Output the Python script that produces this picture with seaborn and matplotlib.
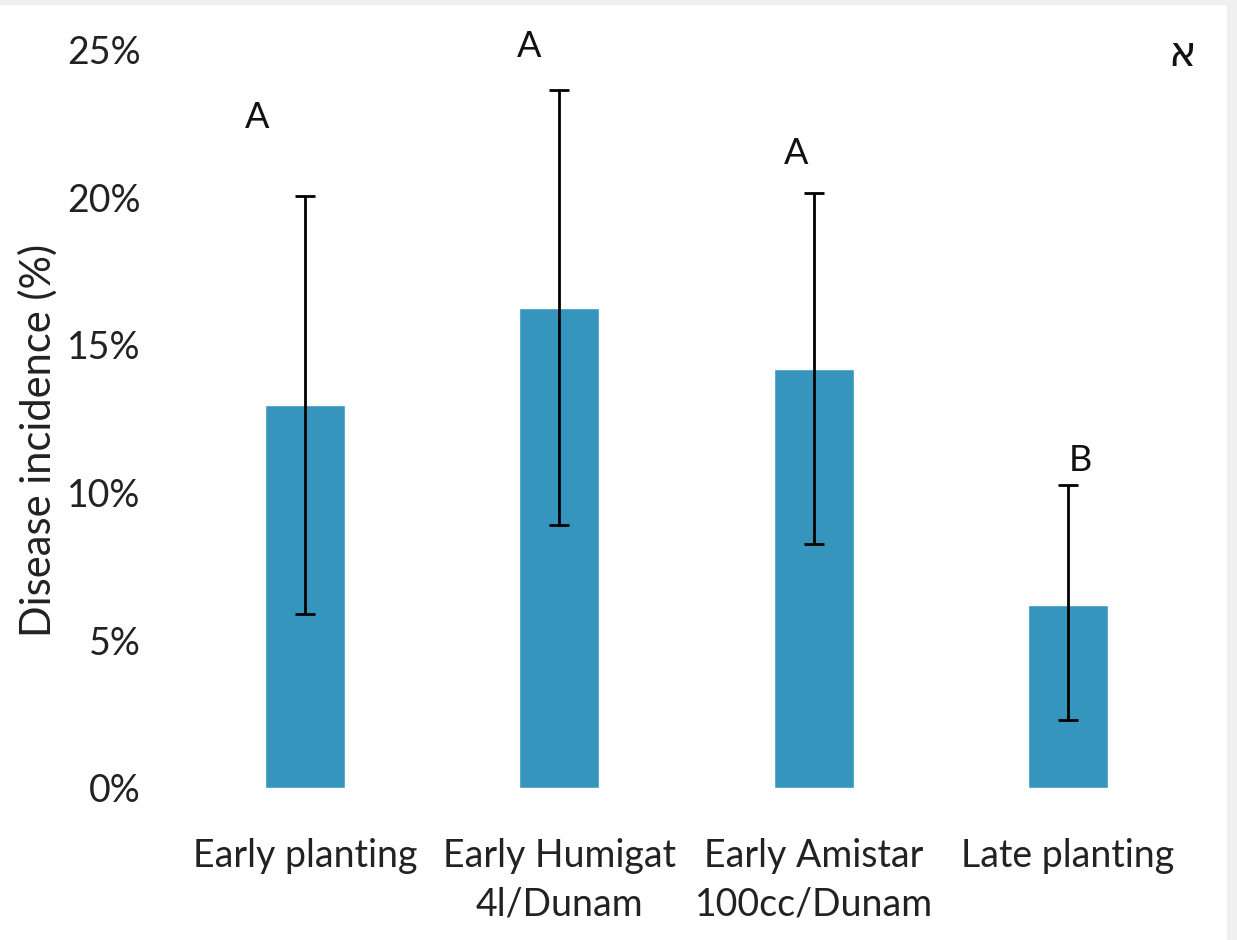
import numpy as np
import pandas as pd
import matplotlib
matplotlib.use("Agg")
import matplotlib.pyplot as plt
import seaborn as sns
from matplotlib.ticker import PercentFormatter

# values (percent)
treatments = ["Early planting", "Early Humigat\n4l/Dunam", "Early Amistar\n100cc/Dunam", "Late planting"]
incidence = [12.95, 16.25, 14.2, 6.2]
err_low = [5.9, 8.9, 8.25, 2.3]
err_high = [20.05, 23.65, 20.15, 10.25]
letters = ["A", "A", "A", "B"]
letter_y = [22.7, 25.1, 21.5, 11.1]
letter_dx = [-0.19, -0.12, -0.07, 0.05]

sns.set_style("white")
plt.rcParams['font.family'] = ['Lato', 'DejaVu Sans']

df = pd.DataFrame({"treatment": treatments, "incidence": incidence})

fig = plt.figure(figsize=(12.37, 9.4), dpi=100)
ax = fig.add_axes([0.144, 0.162, 0.822, 0.785])

sns.barplot(data=df, x="treatment", y="incidence", color="#3595bc", saturation=1,
            width=0.315, ax=ax, errorbar=None)

x = np.arange(len(treatments))
yerr = [np.array(incidence) - np.array(err_low), np.array(err_high) - np.array(incidence)]
ax.errorbar(x, incidence, yerr=yerr, fmt="none", ecolor="black", elinewidth=2,
            capsize=7, capthick=2)

for i, (lab, ly, dx) in enumerate(zip(letters, letter_y, letter_dx)):
    ax.text(i + dx, ly, lab, ha="center", va="center", fontsize=26, color="#111111", clip_on=False)

ax.text(3.45, 24.85, "א", ha="center", va="center", fontsize=30, color="#111111",
        family=["DejaVu Sans"])

ax.set_ylim(0, 25)
ax.set_xlim(-0.5, 3.5)
ax.set_yticks([0, 5, 10, 15, 20, 25])
ax.yaxis.set_major_formatter(PercentFormatter(decimals=0))
ax.tick_params(axis="y", labelsize=27, length=0, pad=27, colors="#222222")
ax.tick_params(axis="x", labelsize=27, length=0, pad=36, colors="#222222")
for t in ax.get_xticklabels():
    t.set_linespacing(1.45)
ax.set_xlabel("")
ax.set_ylabel("Disease incidence (%)", fontsize=30, color="#222222", labelpad=7)
ax.yaxis.label.set_y(0.47)
sns.despine(ax=ax, left=True, bottom=True)

# light grey frame edges like the screenshot
fig.patches.append(plt.Rectangle((0.992, 0), 0.008, 1, transform=fig.transFigure,
                                 color="#f0f0f0", zorder=0))
fig.patches.append(plt.Rectangle((0, 0.996), 1, 0.004, transform=fig.transFigure,
                                 color="#f0f0f0", zorder=0))

fig.savefig("out.png", dpi=100, facecolor="white")
